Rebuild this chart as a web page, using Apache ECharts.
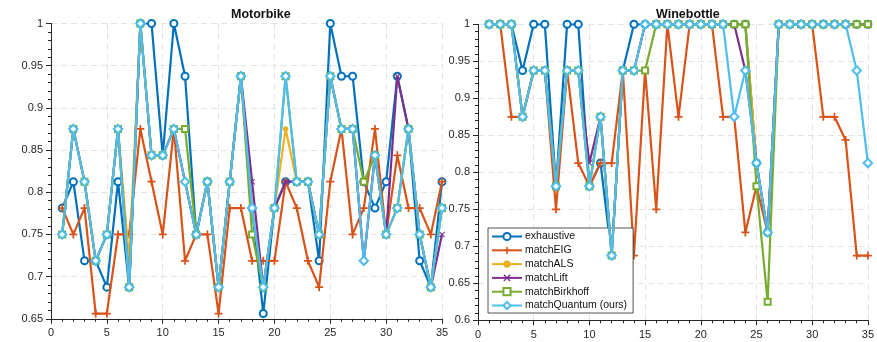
<!DOCTYPE html>
<html>
<head>
<meta charset="utf-8">
<script src="https://cdn.jsdelivr.net/npm/echarts@6/dist/echarts.min.js"></script>
<style>
  html, body { margin: 0; padding: 0; background: #fff; }
  #chart { width: 877px; height: 342px; }
</style>
</head>
<body>
<div id="chart"></div>
<script>
// Trial indices shared by both panels
const trials = [1,2,3,4,5,6,7,8,9,10,11,12,13,14,15,16,17,18,19,20,21,22,23,24,25,26,27,28,29,30,31,32,33,34,35];

const methodNames = ['exhaustive', 'matchEIG', 'matchALS', 'matchLift', 'matchBirkhoff', 'matchQuantum (ours)'];

// Motorbike accuracies per method
const mbExhaustive = [0.78125,0.8125,0.71875,0.71875,0.6875,0.8125,0.6875,1,1,0.84375,1,0.9375,0.75,0.8125,0.6875,0.8125,0.9375,0.78125,0.65625,0.78125,0.8125,0.8125,0.8125,0.71875,1,0.9375,0.9375,0.8125,0.78125,0.8125,0.9375,0.875,0.71875,0.6875,0.8125];
const mbEIG        = [0.78125,0.75,0.78125,0.65625,0.65625,0.75,0.75,0.875,0.8125,0.75,0.875,0.71875,0.75,0.75,0.65625,0.78125,0.78125,0.71875,0.71875,0.71875,0.8125,0.78125,0.71875,0.6875,0.8125,0.875,0.75,0.78125,0.875,0.75,0.84375,0.78125,0.78125,0.75,0.8125];
const mbALS        = [0.75,0.875,0.8125,0.71875,0.75,0.875,0.71875,1,0.84375,0.84375,0.875,0.8125,0.75,0.8125,0.6875,0.8125,0.9375,0.78125,0.6875,0.78125,0.875,0.8125,0.8125,0.75,0.9375,0.875,0.875,0.71875,0.84375,0.75,0.78125,0.875,0.75,0.6875,0.78125];
const mbLift       = [0.75,0.875,0.8125,0.71875,0.75,0.875,0.6875,1,0.84375,0.84375,0.875,0.8125,0.75,0.8125,0.6875,0.8125,0.9375,0.8125,0.6875,0.78125,0.8125,0.8125,0.8125,0.75,0.9375,0.875,0.875,0.71875,0.84375,0.75,0.9375,0.875,0.75,0.6875,0.75];
const mbBirkhoff   = [0.75,0.875,0.8125,0.71875,0.75,0.875,0.6875,1,0.84375,0.84375,0.875,0.875,0.75,0.8125,0.6875,0.8125,0.9375,0.75,0.6875,0.78125,0.9375,0.8125,0.8125,0.75,0.9375,0.875,0.875,0.8125,0.84375,0.75,0.78125,0.875,0.75,0.6875,0.78125];
const mbQuantum    = [0.75,0.875,0.8125,0.71875,0.75,0.875,0.6875,1,0.84375,0.84375,0.875,0.8125,0.75,0.8125,0.6875,0.8125,0.9375,0.78125,0.6875,0.78125,0.9375,0.8125,0.8125,0.75,0.9375,0.875,0.875,0.71875,0.84375,0.75,0.78125,0.875,0.75,0.6875,0.78125];

// Winebottle accuracies per method
const wbExhaustive = [1,1,1,0.9375,1,1,0.78125,1,1,0.78125,0.8125,0.6875,0.9375,1,1,1,1,1,1,1,1,1,1,1,0.8125,0.71875,1,1,1,1,1,1,1,1,1];
const wbEIG        = [1,1,0.875,0.875,0.9375,0.9375,0.75,0.9375,0.8125,0.78125,0.8125,0.8125,0.9375,0.6875,0.9375,0.75,1,0.875,1,1,1,0.875,0.875,0.71875,0.78125,0.71875,1,1,1,1,0.875,0.875,0.84375,0.6875,0.6875];
const wbALS        = [1,1,1,0.875,0.9375,0.9375,0.78125,0.9375,0.9375,0.78125,0.875,0.6875,0.9375,0.9375,1,1,1,1,1,1,1,1,1,1,0.8125,0.71875,1,1,1,1,1,1,1,1,1];
const wbLift       = [1,1,1,0.875,0.9375,0.9375,0.78125,0.9375,0.9375,0.8125,0.875,0.6875,0.9375,0.9375,1,1,1,1,1,1,1,1,1,0.9375,0.8125,0.71875,1,1,1,1,1,1,1,1,1];
const wbBirkhoff   = [1,1,1,0.875,0.9375,0.9375,0.78125,0.9375,0.9375,0.78125,0.875,0.6875,0.9375,0.9375,0.9375,1,1,1,1,1,1,1,1,1,0.78125,0.625,1,1,1,1,1,1,1,1,1];
const wbQuantum    = [1,1,1,0.875,0.9375,0.9375,0.78125,0.9375,0.9375,0.78125,0.875,0.6875,0.9375,0.9375,1,1,1,1,1,1,1,1,0.875,0.9375,0.8125,0.71875,1,1,1,1,1,1,1,0.9375,0.8125];

// Axis ranges and ticks
const xMin = 0, xMax = 35, xStep = 5;
const mbYMin = 0.65, wbYMin = 0.6, yMax = 1, yStep = 0.05;

const colors = ['#0072BD', '#D95319', '#EDB120', '#7E2F8E', '#77AC30', '#4DBEEE'];
const plusPath = 'path://M3.9,0H6.1V3.9H10V6.1H6.1V10H3.9V6.1H0V3.9H3.9Z';
const crossPath = 'path://M1.3,0L5,3.7L8.7,0L10,1.3L6.3,5L10,8.7L8.7,10L5,6.3L1.3,10L0,8.7L3.7,5L0,1.3Z';
const markers = [
  { symbol: 'emptyCircle', size: 7, border: 1.6 },
  { symbol: plusPath, size: 8, border: 0 },
  { symbol: 'circle', size: 5.5, border: 0 },
  { symbol: crossPath, size: 6, border: 0 },
  { symbol: 'emptyRect', size: 6, border: 1.6 },
  { symbol: 'emptyDiamond', size: 8.5, border: 1.9 }
];

const mbSets = [mbExhaustive, mbEIG, mbALS, mbLift, mbBirkhoff, mbQuantum];
const wbSets = [wbExhaustive, wbEIG, wbALS, wbLift, wbBirkhoff, wbQuantum];

const axisColor = '#262626';
const gridColor = '#e3e3e3';
const fontFamily = 'Liberation Sans, Arial, Helvetica, sans-serif';

function xAxisFor(gridIndex) {
  return {
    type: 'value', gridIndex, min: xMin, max: xMax, interval: xStep,
    axisLine: { show: true, onZero: false, lineStyle: { color: axisColor, width: 1 } },
    axisTick: { show: true, inside: false, length: 5, lineStyle: { color: axisColor } },
    minorTick: { show: true, splitNumber: 5, length: 3, lineStyle: { color: axisColor } },
    axisLabel: { color: axisColor, fontSize: 11, fontFamily, margin: 9 },
    splitLine: { show: true, lineStyle: { color: gridColor, type: [6, 4], width: 1 } }
  };
}

function yAxisFor(gridIndex, min) {
  return {
    type: 'value', gridIndex, min, max: yMax, interval: yStep,
    axisLine: { show: true, onZero: false, lineStyle: { color: axisColor, width: 1 } },
    axisTick: { show: true, inside: false, length: 5, lineStyle: { color: axisColor } },
    minorTick: { show: true, splitNumber: 5, length: 3, lineStyle: { color: axisColor } },
    axisLabel: { color: axisColor, fontSize: 11, fontFamily, margin: 8,
      formatter: v => String(Math.round(v * 100) / 100) },
    splitLine: { show: true, lineStyle: { color: gridColor, type: [6, 4], width: 1 } }
  };
}

function buildSeries(sets, axisIndex) {
  return sets.map((vals, i) => ({
    name: methodNames[i],
    type: 'line',
    xAxisIndex: axisIndex,
    yAxisIndex: axisIndex,
    data: trials.map((t, j) => [t, vals[j]]),
    symbol: markers[i].symbol,
    symbolSize: markers[i].size,
    showAllSymbol: true,
    lineStyle: { color: colors[i], width: 2.2 },
    itemStyle: { color: colors[i], borderColor: colors[i], borderWidth: markers[i].border },
    emphasis: { disabled: true },
    animation: false,
    z: 2 + i
  }));
}

const chart = echarts.init(document.getElementById('chart'), null, { renderer: 'canvas' });
chart.setOption({
  backgroundColor: '#ffffff',
  animation: false,
  color: colors,
  title: [
    { text: 'Motorbike', left: 226, top: 3,
      textStyle: { fontSize: 12.5, fontWeight: 'bold', color: '#111', fontFamily } },
    { text: 'Winebottle', left: 651, top: 3,
      textStyle: { fontSize: 12.5, fontWeight: 'bold', color: '#111', fontFamily } }
  ],
  grid: [
    { left: 51, right: 435, top: 23.5, bottom: 23.2 },
    { left: 478, right: 7, top: 24.3, bottom: 21.7 }
  ],
  xAxis: [xAxisFor(0), xAxisFor(1)],
  yAxis: [yAxisFor(0, mbYMin), yAxisFor(1, wbYMin)],
  legend: {
    data: methodNames,
    orient: 'vertical',
    left: 488, top: 228,
    padding: [3, 6, 2, 3],
    itemGap: 2.8,
    itemWidth: 30,
    itemHeight: 9,
    backgroundColor: '#ffffff',
    borderColor: '#262626',
    borderWidth: 0.8,
    selectedMode: false,
    textStyle: { fontSize: 10.5, lineHeight: 11, color: '#111', fontFamily, padding: [0, 0, 0, -2] }
  },
  series: [...buildSeries(mbSets, 0), ...buildSeries(wbSets, 1)]
});
</script>
</body>
</html>
